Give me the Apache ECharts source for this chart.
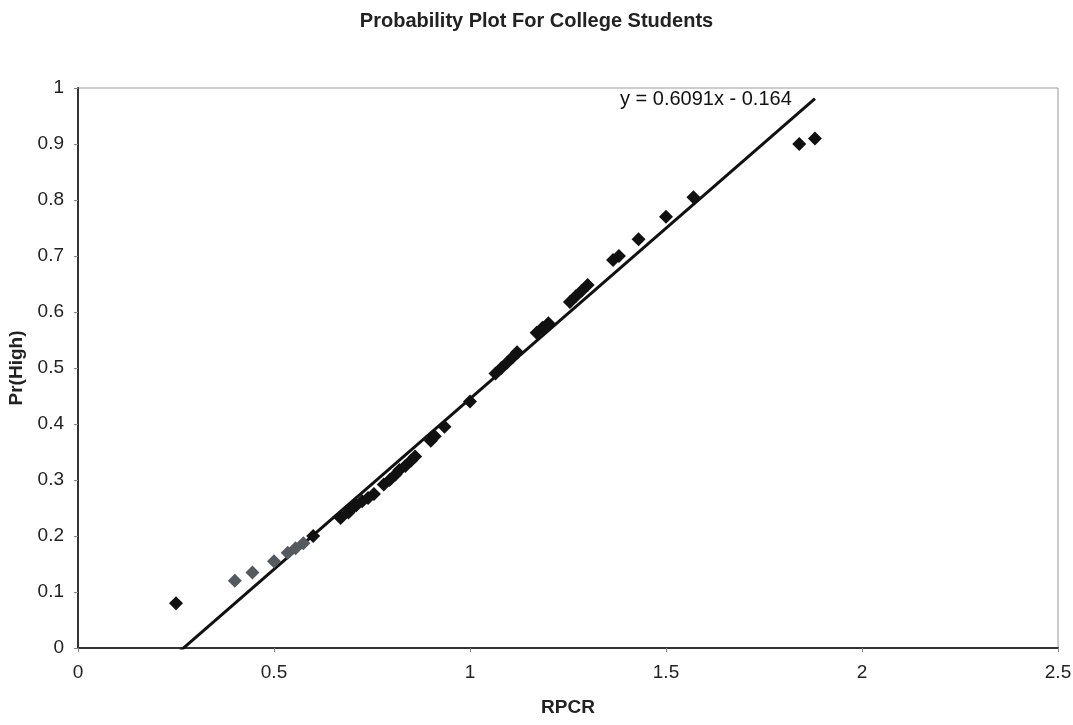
<!DOCTYPE html>
<html>
<head>
<meta charset="utf-8">
<script src="https://cdn.jsdelivr.net/npm/echarts@6/dist/echarts.min.js"></script>
<style>
html,body{margin:0;padding:0;background:#fff;}
#main{width:1073px;height:725px;}
</style>
</head>
<body>
<div id="main"></div>
<script>
// 数据点 (RPCR, Pr(High))
var darkX = [0.25, 0.60, 0.67, 0.69, 0.70, 0.71, 0.725, 0.74, 0.755, 0.78, 0.795, 0.81, 0.82, 0.835, 0.85, 0.86,
             0.90, 0.91, 0.935, 1.0, 1.065, 1.08, 1.095, 1.11, 1.12, 1.17, 1.185, 1.20,
             1.255, 1.27, 1.285, 1.30, 1.365, 1.38, 1.43, 1.50, 1.57, 1.84, 1.88];
var darkY = [0.08, 0.20, 0.232, 0.242, 0.25, 0.255, 0.262, 0.268, 0.275, 0.292, 0.30, 0.31, 0.318, 0.325, 0.335, 0.342,
             0.37, 0.378, 0.395, 0.44, 0.49, 0.50, 0.51, 0.52, 0.528, 0.563, 0.572, 0.58,
             0.618, 0.628, 0.638, 0.648, 0.693, 0.70, 0.73, 0.77, 0.805, 0.90, 0.91];
var greyX = [0.40, 0.445, 0.50, 0.535, 0.555, 0.575];
var greyY = [0.12, 0.135, 0.155, 0.17, 0.178, 0.187];
// 趋势线 y = 0.6091x - 0.164
var slope = 0.6091, intercept = -0.164;
var trendX = [0.25, 1.88];
var xTicks = [0, 0.5, 1, 1.5, 2, 2.5];

function pairs(xs, ys) {
    return xs.map(function (x, i) { return [x, ys[i]]; });
}
var trend = trendX.map(function (x) { return [x, slope * x + intercept]; });

var font = 'Liberation Sans, Arial, sans-serif';
var myChart = echarts.init(document.getElementById('main'));
myChart.setOption({
    animation: false,
    title: {
        text: 'Probability Plot For College Students',
        left: 'center', top: 6,
        textStyle: {fontFamily: font, fontSize: 20, fontWeight: 'bold', color: '#222'}
    },
    grid: {left: 78, right: 15, top: 88, bottom: 77, outerBoundsMode: 'none',
        show: true, borderColor: '#999', borderWidth: 1},
    xAxis: {
        type: 'value', min: 0, max: 2.5, interval: 0.5,
        name: 'RPCR', nameLocation: 'middle', nameGap: 50,
        nameTextStyle: {fontFamily: font, fontSize: 19, fontWeight: 'bold', color: '#222'},
        axisLine: {lineStyle: {color: '#333', width: 2}},
        axisTick: {show: true, length: 4, lineStyle: {color: '#888'}},
        axisLabel: {fontFamily: font, fontSize: 19, color: '#222', margin: 15,
            formatter: function (v) { return xTicks.indexOf(v) >= 0 ? String(v) : ''; }},
        splitLine: {show: false}
    },
    yAxis: {
        type: 'value', min: 0, max: 1, interval: 0.1,
        name: 'Pr(High)', nameLocation: 'middle', nameGap: 52, nameRotate: 90,
        nameTextStyle: {fontFamily: font, fontSize: 19, fontWeight: 'bold', color: '#222'},
        axisLine: {show: true, lineStyle: {color: '#333', width: 2}},
        axisTick: {show: true, length: 4, lineStyle: {color: '#888'}},
        axisLabel: {fontFamily: font, fontSize: 19, color: '#222', margin: 14,
            formatter: function (v) { return String(Math.round(v * 10) / 10); }},
        splitLine: {show: false}
    },
    graphic: [{
        type: 'text', left: 620, top: 89,
        style: {text: 'y = 0.6091x - 0.164', font: '20px ' + font, fill: '#111'}
    }],
    series: [{
        type: 'line', data: trend, symbol: 'none', clip: true,
        lineStyle: {color: '#111', width: 3}, z: 1
    }, {
        type: 'scatter', data: pairs(greyX, greyY), symbol: 'diamond', symbolSize: 14,
        itemStyle: {color: '#555a60', opacity: 1}, z: 2
    }, {
        type: 'scatter', data: pairs(darkX, darkY), symbol: 'diamond', symbolSize: 14,
        itemStyle: {color: '#111', opacity: 1}, z: 3
    }]
});
</script>
</body>
</html>
